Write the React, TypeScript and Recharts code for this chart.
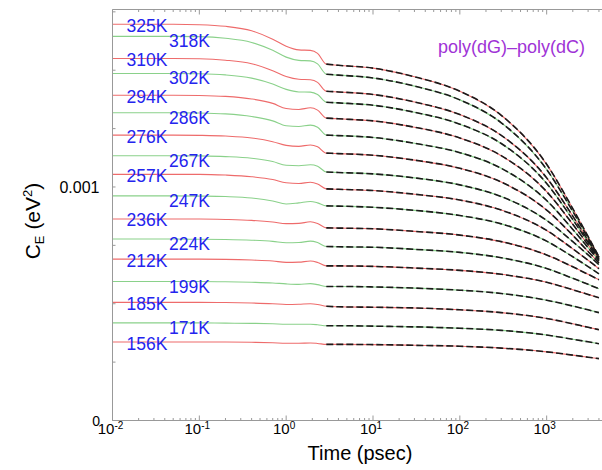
import React from 'react';
import { LineChart, Line, XAxis, YAxis } from 'recharts';

// time points (psec)
const TIME = [0.01, 0.05, 0.1, 0.2, 0.4, 0.7, 1.0, 1.4, 1.9, 2.3, 2.9, 4, 10, 30, 100, 300, 1000, 2000, 3000, 4000];
// dashed fit curves start here (psec)
const FIT_START = 2.9;

// C_E values in units of 10^-3 eV^2
const CE_325 = [1.697, 1.697, 1.695, 1.688, 1.669, 1.633, 1.603, 1.587, 1.585, 1.572, 1.526, 1.521, 1.509, 1.472, 1.410, 1.307, 1.097, 0.907, 0.788, 0.701];
const CE_318 = [1.645, 1.645, 1.644, 1.637, 1.619, 1.585, 1.556, 1.542, 1.540, 1.527, 1.483, 1.479, 1.467, 1.432, 1.373, 1.275, 1.075, 0.895, 0.781, 0.699];
const CE_310 = [1.550, 1.550, 1.549, 1.543, 1.528, 1.498, 1.473, 1.461, 1.459, 1.448, 1.410, 1.407, 1.396, 1.364, 1.310, 1.221, 1.039, 0.875, 0.771, 0.697];
const CE_302 = [1.486, 1.486, 1.485, 1.480, 1.466, 1.441, 1.418, 1.407, 1.406, 1.396, 1.363, 1.360, 1.350, 1.320, 1.269, 1.186, 1.015, 0.860, 0.763, 0.692];
const CE_294 = [1.393, 1.393, 1.392, 1.388, 1.377, 1.358, 1.336, 1.332, 1.339, 1.329, 1.295, 1.292, 1.283, 1.256, 1.210, 1.134, 0.980, 0.840, 0.752, 0.688];
const CE_286 = [1.318, 1.318, 1.317, 1.313, 1.302, 1.283, 1.262, 1.259, 1.265, 1.256, 1.222, 1.220, 1.212, 1.187, 1.147, 1.080, 0.942, 0.818, 0.740, 0.684];
const CE_276 = [1.222, 1.222, 1.221, 1.218, 1.210, 1.194, 1.178, 1.174, 1.180, 1.172, 1.145, 1.143, 1.136, 1.115, 1.080, 1.021, 0.901, 0.793, 0.724, 0.675];
const CE_267 = [1.134, 1.134, 1.133, 1.130, 1.123, 1.109, 1.093, 1.091, 1.095, 1.089, 1.064, 1.062, 1.056, 1.039, 1.009, 0.959, 0.857, 0.766, 0.709, 0.667];
const CE_257 = [1.054, 1.054, 1.054, 1.051, 1.044, 1.032, 1.018, 1.015, 1.020, 1.013, 0.992, 0.990, 0.985, 0.969, 0.944, 0.901, 0.814, 0.735, 0.686, 0.650];
const CE_247 = [0.962, 0.962, 0.961, 0.959, 0.953, 0.940, 0.927, 0.932, 0.938, 0.932, 0.919, 0.918, 0.913, 0.900, 0.878, 0.842, 0.768, 0.701, 0.659, 0.628];
const CE_236 = [0.863, 0.863, 0.863, 0.861, 0.857, 0.850, 0.843, 0.844, 0.851, 0.844, 0.825, 0.824, 0.821, 0.810, 0.794, 0.766, 0.709, 0.658, 0.626, 0.603];
const CE_224 = [0.777, 0.777, 0.776, 0.775, 0.772, 0.767, 0.761, 0.762, 0.768, 0.762, 0.745, 0.744, 0.742, 0.733, 0.720, 0.697, 0.651, 0.609, 0.583, 0.564];
const CE_212 = [0.691, 0.691, 0.691, 0.690, 0.687, 0.683, 0.677, 0.678, 0.683, 0.677, 0.662, 0.662, 0.660, 0.653, 0.643, 0.626, 0.592, 0.560, 0.540, 0.526];
const CE_199 = [0.595, 0.595, 0.595, 0.594, 0.592, 0.589, 0.585, 0.583, 0.586, 0.582, 0.574, 0.574, 0.572, 0.567, 0.558, 0.544, 0.515, 0.490, 0.474, 0.462];
const CE_185 = [0.506, 0.506, 0.506, 0.505, 0.503, 0.500, 0.497, 0.498, 0.500, 0.497, 0.489, 0.487, 0.485, 0.482, 0.474, 0.462, 0.437, 0.414, 0.399, 0.389];
const CE_171 = [0.418, 0.418, 0.418, 0.417, 0.416, 0.414, 0.412, 0.412, 0.412, 0.410, 0.406, 0.406, 0.404, 0.401, 0.395, 0.386, 0.366, 0.348, 0.337, 0.329];
const CE_156 = [0.336, 0.336, 0.336, 0.336, 0.335, 0.333, 0.331, 0.331, 0.332, 0.330, 0.326, 0.326, 0.325, 0.322, 0.318, 0.310, 0.294, 0.280, 0.271, 0.265];

const TEMP_LABELS = ['325K', '318K', '310K', '302K', '294K', '286K', '276K', '267K', '257K', '247K', '236K', '224K', '212K', '199K', '185K', '171K', '156K'];
const SERIES_VALUES = [CE_325, CE_318, CE_310, CE_302, CE_294, CE_286, CE_276, CE_267, CE_257, CE_247, CE_236, CE_224, CE_212, CE_199, CE_185, CE_171, CE_156];

const X_MAJOR = [0.01, 0.1, 1, 10, 100, 1000, 10000];
const X_LABELLED = [0.01, 0.1, 1, 10, 100, 1000];
const Y_TICKS = [0, 0.00025, 0.0005, 0.00075, 0.001, 0.00125, 0.0015, 0.00175];
const Y_TICK_LABELS: Record<string, string> = { '0': '0', '0.001': '0.001' };
const TITLE = 'poly(dG)\u2013poly(dC)';
const X_LABEL = 'Time (psec)';
const UNIT = 1e-3;

const FONT = '"Liberation Sans", Arial, Helvetica, sans-serif';
const RED = '#ee6b6b';
const GREEN = '#8ad18a';
const AXIS = '#999';

// minor + major ticks of the log axis
const X_TICKS: number[] = [];
X_MAJOR.forEach((m, i) => {
  X_TICKS.push(m);
  if (i < X_MAJOR.length - 1) for (let k = 2; k <= 9; k++) X_TICKS.push(+(m * k).toPrecision(6));
});

const isMajor = (v: number) => Math.abs(Math.log10(v) - Math.round(Math.log10(v))) < 1e-6;
const isLabelled = (v: number) => X_LABELLED.some((m) => Math.abs(m - v) / m < 1e-6);

const SERIES = TEMP_LABELS.map((lab, i) => ({
  key: 'T' + lab,
  fitKey: 'F' + lab,
  label: lab,
  values: SERIES_VALUES[i],
  red: i % 2 === 0,
}));

const DATA = TIME.map((t, i) => {
  const row: Record<string, number | null> = { t };
  SERIES.forEach((s) => {
    row[s.key] = s.values[i] * UNIT;
    row[s.fitKey] = t >= FIT_START ? s.values[i] * UNIT : null;
  });
  return row;
});

const XTickBottom = (props: any) => {
  const { x, y, payload } = props;
  const v = payload.value;
  const major = isMajor(v);
  const exp = Math.round(Math.log10(v));
  return (
    <g>
      <line x1={x} x2={x} y1={y} y2={y - (major ? 5 : 2.5)} stroke={AXIS} strokeWidth={1} />
      {isLabelled(v) && (
        <text x={x - 2} y={y + 13.5} textAnchor="middle" fontSize={15} fill="#000" fontFamily={FONT}>
          10
          <tspan dy={-5.5} fontSize={10}>{String(exp)}</tspan>
        </text>
      )}
    </g>
  );
};

const XTickTop = (props: any) => {
  const { x, y, payload } = props;
  const major = isMajor(payload.value);
  return <line x1={x} x2={x} y1={y} y2={y + (major ? 5 : 2.5)} stroke={AXIS} strokeWidth={1} />;
};

const YTick = (props: any) => {
  const { x, y, payload } = props;
  const v = payload.value;
  const key = String(+v.toPrecision(6));
  const lab = Y_TICK_LABELS[key];
  return (
    <g>
      <line x1={x} x2={x + 3} y1={y} y2={y} stroke={AXIS} strokeWidth={1} />
      {lab && (
        <text x={x - (v === 0 ? 12.5 : 13)} y={y + (v === 0 ? 5 : 6)} textAnchor="end" fontSize={v === 0 ? 14 : 16} fill="#000" fontFamily={FONT}>
          {lab}
        </text>
      )}
    </g>
  );
};

const makeSeriesLabel = (text: string, red: boolean) => (props: any) => {
  if (props.index !== 0) return <g />;
  return (
    <text x={props.x + (red ? 14 : 56.5)} y={props.y + (red ? 7.5 : 11)} fill="#2424ee" fontSize={17.5} fontFamily={FONT}>
      {text}
    </text>
  );
};

const TitleLabel = () => (
  <text x={511.5} y={53} textAnchor="middle" fontSize={18} fill="#a033d6" fontFamily={FONT}>
    {TITLE}
  </text>
);

const XLabel = () => (
  <text x={360} y={460} textAnchor="middle" fontSize={20} fill="#000" fontFamily={FONT}>
    {X_LABEL}
  </text>
);

const YLabel = () => (
  <text transform="translate(40,221) rotate(-90)" textAnchor="middle" fontSize={21} fill="#000" fontFamily={FONT}>
    C
    <tspan fontSize={13} dy={4}>E</tspan>
    <tspan dy={-4}> (eV</tspan>
    <tspan fontSize={13} dy={-8}>2</tspan>
    <tspan dy={8}>)</tspan>
  </text>
);

export default function App() {
  return (
    <div style={{ position: 'absolute', left: 0, top: 0, width: 602, height: 470, overflow: 'hidden', background: '#fff' }}>
      <LineChart width={660} height={470} data={DATA} margin={{ top: 8.5, right: 26.5, bottom: 9.5, left: 0 }}>
        <XAxis
          dataKey="t"
          type="number"
          scale="log"
          domain={[0.01, 10000]}
          allowDataOverflow
          ticks={X_TICKS}
          interval={0}
          tick={XTickBottom}
          tickLine={false}
          tickSize={0}
          tickMargin={0}
          height={40}
          axisLine={{ stroke: AXIS, strokeWidth: 1 }}
          label={XLabel}
        />
        <XAxis
          xAxisId="top"
          orientation="top"
          dataKey="t"
          type="number"
          scale="log"
          domain={[0.01, 10000]}
          allowDataOverflow
          ticks={X_TICKS}
          interval={0}
          tick={XTickTop}
          tickLine={false}
          tickSize={0}
          tickMargin={0}
          height={1}
          axisLine={{ stroke: AXIS, strokeWidth: 1 }}
          label={TitleLabel}
        />
        <YAxis
          type="number"
          domain={[0, 0.00176]}
          allowDataOverflow
          ticks={Y_TICKS}
          interval={0}
          tick={YTick}
          tickLine={false}
          tickSize={0}
          tickMargin={0}
          width={112.5}
          axisLine={{ stroke: AXIS, strokeWidth: 1 }}
          label={YLabel}
        />
        {SERIES.map((s) => (
          <Line
            key={s.key}
            dataKey={s.key}
            type="monotone"
            stroke={s.red ? RED : GREEN}
            strokeWidth={1.1}
            dot={false}
            activeDot={false}
            isAnimationActive={false}
            label={makeSeriesLabel(s.label, s.red)}
          />
        ))}
        {SERIES.map((s) => (
          <Line
            key={s.fitKey}
            dataKey={s.fitKey}
            type="monotone"
            stroke="#1a1a1a"
            strokeWidth={1.6}
            strokeDasharray="7 3"
            dot={false}
            activeDot={false}
            isAnimationActive={false}
          />
        ))}
      </LineChart>
    </div>
  );
}
